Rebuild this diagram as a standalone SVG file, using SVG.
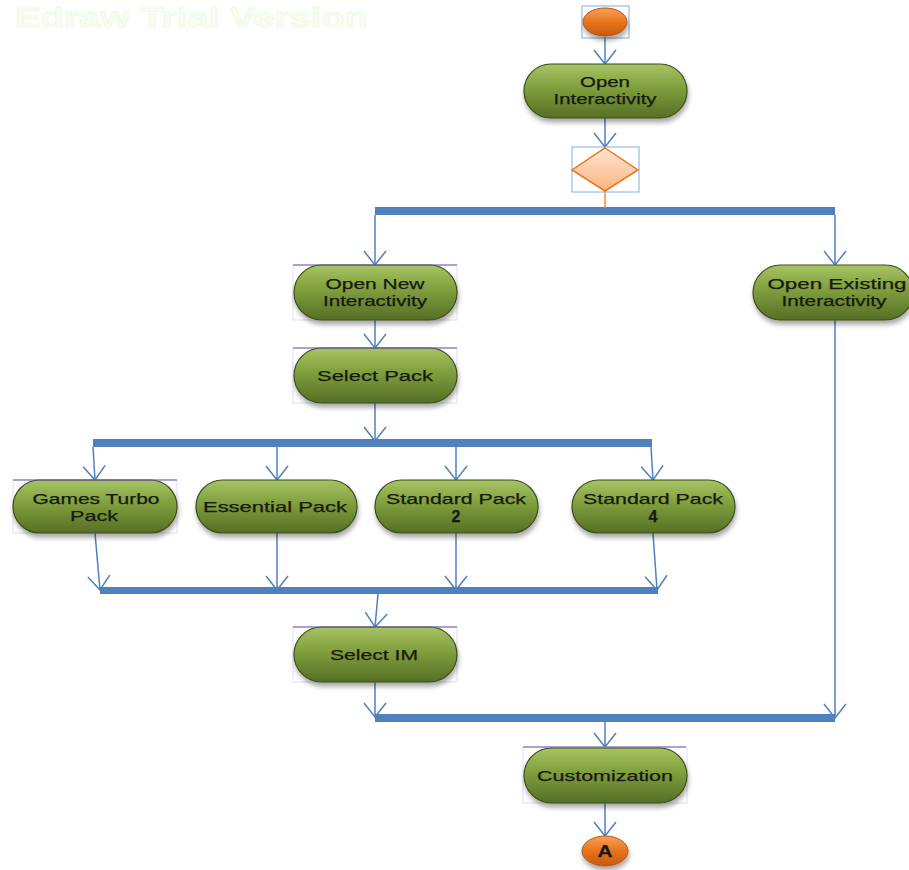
<svg xmlns="http://www.w3.org/2000/svg" width="909" height="870" viewBox="0 0 909 870">
  <defs>
    <linearGradient id="pillFill" x1="0" y1="0" x2="0" y2="1">
      <stop offset="0" stop-color="#a6c463"/>
      <stop offset="0.45" stop-color="#7f9e3c"/>
      <stop offset="1" stop-color="#556f26"/>
    </linearGradient>
    <linearGradient id="orangeFill" x1="0" y1="0" x2="0" y2="1">
      <stop offset="0" stop-color="#f9a25a"/>
      <stop offset="0.5" stop-color="#e8731c"/>
      <stop offset="1" stop-color="#c65a0e"/>
    </linearGradient>
    <linearGradient id="diamondFill" x1="0" y1="0" x2="0" y2="1">
      <stop offset="0" stop-color="#fde6d4"/>
      <stop offset="1" stop-color="#f9b47e"/>
    </linearGradient>
    <filter id="shadow" x="-20%" y="-30%" width="140%" height="180%">
      <feGaussianBlur in="SourceAlpha" stdDeviation="2.5"/>
      <feOffset dx="1" dy="4" result="off"/>
      <feComponentTransfer><feFuncA type="linear" slope="0.35"/></feComponentTransfer>
      <feMerge><feMergeNode/><feMergeNode in="SourceGraphic"/></feMerge>
    </filter>
    <!-- open V arrowhead, drawn pointing along +x so orient="auto" follows the line -->
    <marker id="vhead" markerUnits="userSpaceOnUse" markerWidth="17" markerHeight="26" refX="16" refY="13" viewBox="0 0 17 26" orient="auto">
      <path d="M2,2 L16,13 L2,24" fill="none" stroke="#4f81bd" stroke-width="1.5"/>
    </marker>
  </defs>
  <style>
    .pill { fill: url(#pillFill); stroke: #3c4f1a; stroke-width: 1.2; filter: url(#shadow); }
    .lbl { font-family: "Liberation Sans", Arial, sans-serif; font-size: 15px; fill: #161a0e; stroke: #161a0e; stroke-width: 0.25; text-anchor: middle; }
    .num { font-weight: bold; font-size: 16px; }
    .frame { fill: none; stroke: #ddd4f0; stroke-width: 0.8; }
    .frametop { stroke: #6a55a8; stroke-width: 1.2; }
    .bframe { fill: none; stroke: #7eaee0; stroke-width: 1; }
    .bar { fill: #4f81bd; }
    .conn { fill: none; stroke: #4f81bd; stroke-width: 1.5; }
    .arr { marker-end: url(#vhead); }
    .orange { fill: url(#orangeFill); stroke: #b4540f; stroke-width: 1; filter: url(#shadow); }
    .wm { font-family: "Liberation Sans", Arial, sans-serif; font-size: 28px; font-weight: bold; fill: #f8fdf2; stroke: #eefae4; stroke-width: 0.8; }
  </style>

  <!-- trial watermark -->
  <text class="wm" x="15" y="27" textLength="353" lengthAdjust="spacingAndGlyphs">Edraw Trial Version</text>

  <!-- connectors and synchronisation bars -->
  <g id="connectors">
    <rect class="bar" x="375" y="207" width="460" height="8"/>
    <rect class="bar" x="93" y="439" width="559" height="8"/>
    <rect class="bar" x="100" y="587" width="558" height="7"/>
    <rect class="bar" x="375" y="714" width="460" height="8"/>

    <path class="conn arr" d="M605,37 L605,64"/>
    <path class="conn arr" d="M605,118 L605,147"/>
    <path d="M605,191 L605,208" fill="none" stroke="#f08a3a" stroke-width="1.5"/>
    <path class="conn arr" d="M375,215 L375,265"/>
    <path class="conn arr" d="M835,215 L835,265"/>
    <path class="conn arr" d="M375,320 L375,348"/>
    <path class="conn arr" d="M375,403 L375,441"/>
    <path class="conn arr" d="M93,447 L95,480"/>
    <path class="conn arr" d="M277,447 L277,480"/>
    <path class="conn arr" d="M456,447 L456,480"/>
    <path class="conn arr" d="M651,447 L653,480"/>
    <path class="conn arr" d="M95,533 L100,590"/>
    <path class="conn arr" d="M277,533 L277,590"/>
    <path class="conn arr" d="M456,533 L456,590"/>
    <path class="conn arr" d="M653,533 L657,590"/>
    <path class="conn arr" d="M378,594 L375,627"/>
    <path class="conn arr" d="M375,682 L375,717"/>
    <path class="conn arr" d="M835,320 L835,718"/>
    <path class="conn arr" d="M605,722 L605,747"/>
    <path class="conn arr" d="M605,803 L605,836"/>
  </g>

  <g id="start">
    <rect class="bframe" x="582" y="6" width="47" height="32"/>
    <ellipse class="orange" cx="605" cy="22" rx="22" ry="14"/>
  </g>

  <g id="open-interactivity">
    <rect class="pill" x="524" y="64" width="163" height="54" rx="27"/>
    <text class="lbl" x="605" y="87" textLength="50" lengthAdjust="spacingAndGlyphs">Open</text>
    <text class="lbl" x="605" y="104" textLength="103" lengthAdjust="spacingAndGlyphs">Interactivity</text>
  </g>

  <g id="decision">
    <rect class="bframe" x="572" y="147" width="67" height="45"/>
    <polygon points="605,148 638,170 605,191 572,170" fill="url(#diamondFill)" stroke="#e8781e" stroke-width="1.5"/>
  </g>

  <g id="open-new">
    <rect class="frame" x="293" y="265" width="164" height="55"/>
    <rect class="pill" x="294" y="265" width="163" height="55" rx="27.5"/>
    <line class="frametop" x1="293" y1="265" x2="457" y2="265"/>
    <text class="lbl" x="375" y="289" textLength="99" lengthAdjust="spacingAndGlyphs">Open New</text>
    <text class="lbl" x="375" y="306" textLength="104" lengthAdjust="spacingAndGlyphs">Interactivity</text>
  </g>

  <g id="open-existing">
    <rect class="pill" x="753" y="265" width="160" height="55" rx="27.5"/>
    <text class="lbl" x="837" y="289" textLength="139" lengthAdjust="spacingAndGlyphs">Open Existing</text>
    <text class="lbl" x="834" y="306" textLength="105" lengthAdjust="spacingAndGlyphs">Interactivity</text>
  </g>

  <g id="select-pack">
    <rect class="frame" x="293" y="348" width="164" height="55"/>
    <rect class="pill" x="294" y="348" width="163" height="55" rx="27.5"/>
    <line class="frametop" x1="293" y1="348" x2="457" y2="348"/>
    <text class="lbl" x="375" y="381" textLength="116" lengthAdjust="spacingAndGlyphs">Select Pack</text>
  </g>

  <g id="games-turbo">
    <rect class="frame" x="13" y="480" width="164" height="53"/>
    <rect class="pill" x="13" y="480" width="164" height="53" rx="26.5"/>
    <line class="frametop" x1="13" y1="480" x2="177" y2="480"/>
    <text class="lbl" x="96" y="504" textLength="127" lengthAdjust="spacingAndGlyphs">Games Turbo</text>
    <text class="lbl" x="94" y="521" textLength="48" lengthAdjust="spacingAndGlyphs">Pack</text>
  </g>

  <g id="essential-pack">
    <rect class="pill" x="196" y="480" width="161" height="53" rx="26.5"/>
    <text class="lbl" x="275" y="512" textLength="144" lengthAdjust="spacingAndGlyphs">Essential Pack</text>
  </g>

  <g id="standard-pack-2">
    <rect class="pill" x="375" y="480" width="163" height="53" rx="26.5"/>
    <text class="lbl" x="456" y="504" textLength="140" lengthAdjust="spacingAndGlyphs">Standard Pack</text>
    <text class="lbl num" x="456" y="522">2</text>
  </g>

  <g id="standard-pack-4">
    <rect class="pill" x="572" y="480" width="163" height="53" rx="26.5"/>
    <text class="lbl" x="653" y="504" textLength="140" lengthAdjust="spacingAndGlyphs">Standard Pack</text>
    <text class="lbl num" x="653" y="522">4</text>
  </g>

  <g id="select-im">
    <rect class="frame" x="293" y="627" width="164" height="55"/>
    <rect class="pill" x="294" y="627" width="163" height="55" rx="27.5"/>
    <line class="frametop" x1="293" y1="627" x2="457" y2="627"/>
    <text class="lbl" x="374" y="660" textLength="88" lengthAdjust="spacingAndGlyphs">Select IM</text>
  </g>

  <g id="customization">
    <rect class="frame" x="523" y="747" width="164" height="56"/>
    <rect class="pill" x="524" y="748" width="163" height="55" rx="27.5"/>
    <line class="frametop" x1="523" y1="747" x2="686" y2="747"/>
    <text class="lbl" x="605" y="781" textLength="136" lengthAdjust="spacingAndGlyphs">Customization</text>
  </g>

  <g id="end-a">
    <ellipse class="orange" cx="605" cy="851" rx="23" ry="15"/>
    <text class="lbl num" x="605" y="857" textLength="15" lengthAdjust="spacingAndGlyphs">A</text>
  </g>
</svg>
